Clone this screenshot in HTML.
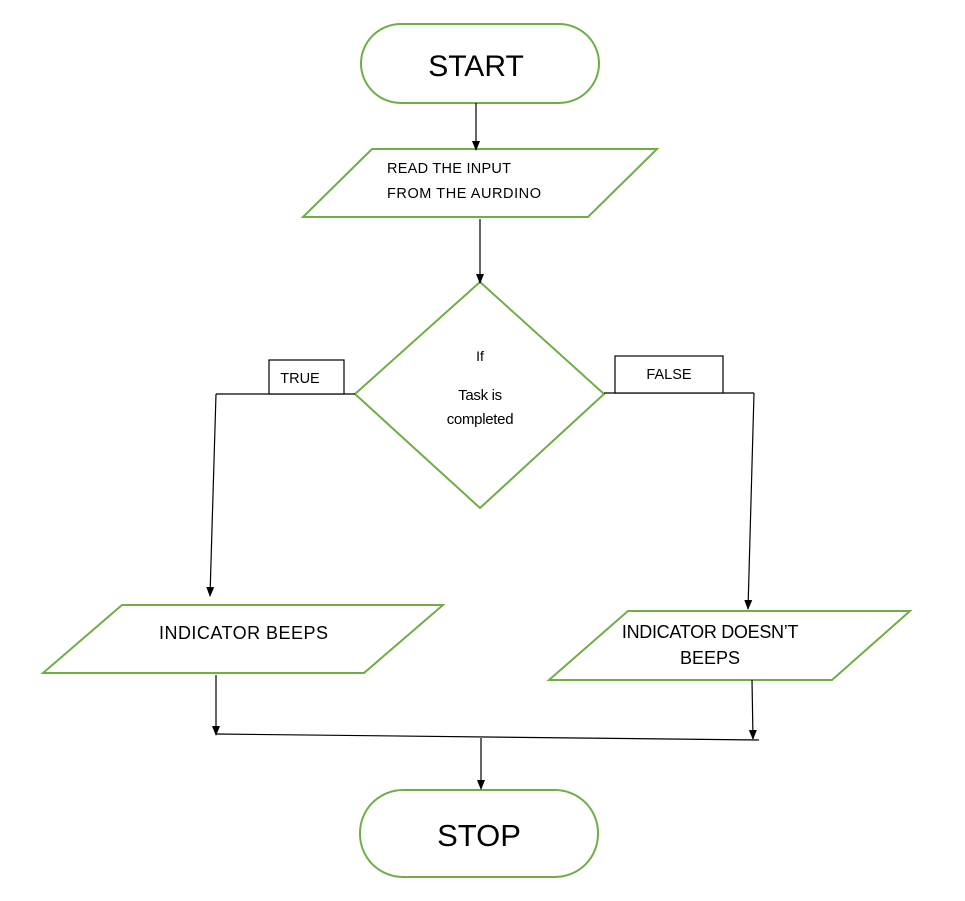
<!DOCTYPE html>
<html><head><meta charset="utf-8"><style>
html,body{margin:0;padding:0;background:#fff}
svg{display:block}
text{font-family:"Liberation Sans",sans-serif;fill:#000}
</style></head><body>
<svg width="965" height="901" viewBox="0 0 965 901" xmlns="http://www.w3.org/2000/svg">
<defs><marker id="a" markerWidth="10" markerHeight="10" refX="9" refY="5" orient="auto" markerUnits="userSpaceOnUse"><path d="M0,1 L10,5 L0,9 z" fill="#000"/></marker></defs>
<g fill="#fff" stroke="#70ad47" stroke-width="2">
<rect x="361" y="24" width="238" height="79" rx="40"/>
<polygon points="303,217 372,149 657,149 588,217"/>
<polygon points="480,282 604,394 480,508 355,394"/>
<polygon points="43,673 122,605 443,605 364,673"/>
<polygon points="549,680 628,611 910,611 832,680"/>
<rect x="360" y="790" width="238" height="87" rx="43"/>
</g>
<g stroke="#000" stroke-width="1.2" fill="none">
<line x1="476" y1="103" x2="476" y2="150" marker-end="url(#a)"/>
<line x1="480" y1="219" x2="480" y2="283" marker-end="url(#a)"/>
<line x1="216" y1="394" x2="355" y2="394"/>
<line x1="216" y1="394" x2="210" y2="596" marker-end="url(#a)"/>
<line x1="604" y1="393" x2="754" y2="393"/>
<line x1="754" y1="393" x2="748" y2="609" marker-end="url(#a)"/>
<line x1="216" y1="675" x2="216" y2="735" marker-end="url(#a)"/>
<line x1="752" y1="680" x2="753" y2="739" marker-end="url(#a)"/>
<line x1="216" y1="734" x2="759" y2="740"/>
<line x1="481" y1="738" x2="481" y2="789" marker-end="url(#a)"/>
<rect x="269" y="360" width="75" height="34" fill="#fff"/>
<rect x="615" y="356" width="108" height="37" fill="#fff"/>
</g>
<text x="476" y="76" font-size="30" text-anchor="middle">START</text>
<text x="387" y="173" font-size="14.5" textLength="124">READ THE INPUT</text>
<text x="387" y="198" font-size="14.5" textLength="154">FROM THE AURDINO</text>
<text x="480" y="361" font-size="14" text-anchor="middle">If</text>
<text x="480" y="400" font-size="15" text-anchor="middle" letter-spacing="-0.3">Task is</text>
<text x="480" y="424" font-size="15" text-anchor="middle" letter-spacing="-0.3">completed</text>
<text x="300" y="383" font-size="14.5" text-anchor="middle">TRUE</text>
<text x="669" y="379" font-size="14.5" text-anchor="middle">FALSE</text>
<text x="159" y="639" font-size="18" textLength="169">INDICATOR BEEPS</text>
<text x="710" y="638" font-size="18" text-anchor="middle" letter-spacing="-0.3">INDICATOR DOESN’T</text>
<text x="710" y="664" font-size="18" text-anchor="middle">BEEPS</text>
<text x="479" y="846" font-size="31" text-anchor="middle">STOP</text>
</svg>
</body></html>
